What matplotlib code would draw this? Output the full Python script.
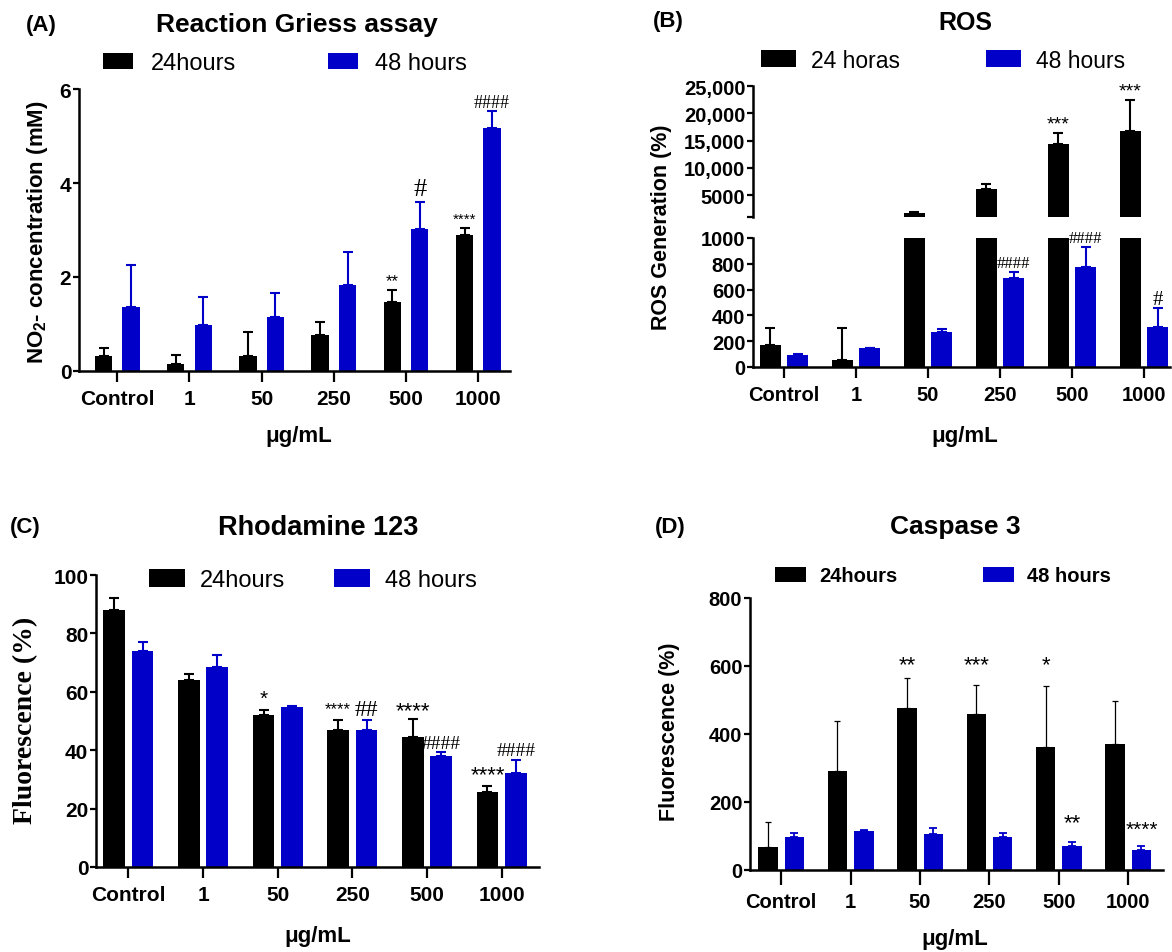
import matplotlib
matplotlib.use('Agg')
import matplotlib.pyplot as plt
import numpy as np

W, H = 1172, 953
BLUE = '#0000C8'
plt.rcParams['font.family'] = ['Liberation Sans', 'DejaVu Sans']
plt.rcParams['mathtext.fontset'] = 'custom'
plt.rcParams['mathtext.rm'] = 'Liberation Sans:bold'
plt.rcParams['mathtext.bf'] = 'Liberation Sans:bold'

categories = ['Control', '1', '50', '250', '500', '1000']

# ---------------- data ----------------
# (A) Griess
griess_24 = [0.31, 0.14, 0.31, 0.76, 1.47, 2.90]
griess_24_sd = [0.19, 0.21, 0.51, 0.29, 0.26, 0.15]
griess_48 = [1.37, 0.97, 1.14, 1.83, 3.02, 5.16]
griess_48_sd = [0.88, 0.61, 0.51, 0.71, 0.58, 0.38]
griess_marks = [(4, 0, '**', 1.92), (4, 1, '#', 3.87), (5, 0, '****', 3.23), (5, 1, '####', 5.72)]

# (B) ROS
ros_24 = [172, 57, 1646, 6220, 14450, 16700]
ros_24_sd = [131, 244, 304, 790, 2010, 5730]
ros_48 = [95, 147, 270, 692, 779, 308]
ros_48_sd = [3, 3, 26, 41, 149, 147]
ros_marks = [(3, 1, '####', 810), (4, 0, '***', 18030), (4, 1, '####', 1000),
             (5, 0, '***', 24140), (5, 1, '#', 527)]

# (C) Rhodamine 123
rho_24 = [88.0, 64.2, 52.2, 46.8, 44.5, 25.7]
rho_24_sd = [4.0, 1.9, 1.6, 3.4, 6.2, 2.0]
rho_48 = [73.9, 68.4, 54.7, 46.8, 37.9, 32.2]
rho_48_sd = [3.1, 4.2, 0.6, 3.4, 1.4, 4.3]
rho_marks = [(2, 0, '*', 57.6), (3, 0, '****', 54.2), (3, 1, '##', 53.9),
             (4, 0, '****', 53.4), (4, 1, '####', 42.2),
             (5, 0, '****', 31.6), (5, 1, '####', 39.9)]

# (D) Caspase 3
casp_24 = [68, 292, 476, 460, 361, 371]
casp_24_sd = [72, 147, 88, 84, 179, 125]
casp_48 = [96, 115, 107, 96, 71, 60]
casp_48_sd = [14, 3, 18, 12, 11, 11]
casp_marks = [(2, 0, '**', 603), (3, 0, '***', 603), (4, 0, '*', 603),
              (4, 1, '**', 140), (5, 1, '****', 120)]

# ---------------- helpers ----------------
fig = plt.figure(figsize=(W / 100, H / 100), dpi=100)


def rect(l, t, r, b):
    return [l / W, 1 - b / H, (r - l) / W, (b - t) / H]


def fx(x):
    return x / W


def fy(y):
    return 1 - y / H


OFF = 0.19


def draw_bars(ax, v24, s24, v48, s48, width, elw, cap, black_elw=None,
              black_cap=None, blue_err=True):
    x = np.arange(len(categories))
    b1 = ax.bar(x - OFF, v24, width=width, color='black', zorder=2)
    b2 = ax.bar(x + OFF, v48, width=width, color=BLUE, zorder=2)
    ax.errorbar(x - OFF, v24, yerr=[np.zeros(len(v24)), s24], fmt='none',
                ecolor='black', elinewidth=black_elw or elw,
                capsize=black_cap or cap, capthick=black_elw or elw, zorder=1)
    if blue_err:
        ax.errorbar(x + OFF, v48, yerr=[np.zeros(len(v48)), s48], fmt='none',
                    ecolor=BLUE, elinewidth=elw, capsize=cap, capthick=elw, zorder=1)
    return b1, b2


def style_axis(ax, xtick_len=6, fs=15):
    for s in ['top', 'right']:
        ax.spines[s].set_visible(False)
    for s in ['left', 'bottom']:
        ax.spines[s].set_linewidth(1.8)
    ax.tick_params(axis='both', width=1.6, labelsize=fs, direction='out')
    ax.tick_params(axis='x', length=xtick_len, pad=5)
    ax.tick_params(axis='y', length=4, pad=1.5)
    ax.set_xticks(np.arange(len(categories)))
    ax.set_xticklabels(categories, fontweight='bold')
    for lab in ax.get_yticklabels():
        lab.set_fontweight('bold')


def marks(ax, lst, sizes):
    for (i, s, t, y), fs in zip(lst, sizes):
        fam = ['Liberation Serif'] if t.startswith('#') else ['Liberation Sans']
        ax.text(i + (OFF if s else -OFF), y, t, ha='center', va='center',
                fontsize=fs, family=fam, clip_on=False, zorder=5)


def legend(ax, handles, labels, cx, cy, fs, hl, hh, tp, cs, weight='normal'):
    lg = ax.legend(handles, labels, ncol=2, loc='center',
                   bbox_to_anchor=(fx(cx), fy(cy)), bbox_transform=fig.transFigure,
                   frameon=False, fontsize=fs, handlelength=hl, handleheight=hh,
                   handletextpad=tp, columnspacing=cs, borderpad=0, borderaxespad=0)
    for t in lg.get_texts():
        t.set_fontweight(weight)
    return lg


# ---------------- (A) ----------------
axA = fig.add_axes(rect(79, 90, 510, 372))
hA = draw_bars(axA, griess_24, griess_24_sd, griess_48, griess_48_sd, 0.24, 1.5, 3.4)
axA.set_xlim(-0.53, 5.44)
axA.set_ylim(0, 6)
axA.set_yticks([0, 2, 4, 6])
style_axis(axA, xtick_len=8)
marks(axA, griess_marks, [12, 19, 11, 13])
legend(axA, hA, ['24hours', '48 hours'], 285, 64, 17, 1.27, 0.64, 0.72, 3.9)
fig.text(fx(41), fy(25), '(A)', fontsize=16, fontweight='bold', ha='center', va='center')
fig.text(fx(297), fy(25), 'Reaction Griess assay', fontsize=19, fontweight='bold', ha='center', va='center')
fig.text(fx(38), fy(232), r'NO$_2$- concentration (mM)', fontsize=16, fontweight='bold',
         rotation=90, ha='center', va='center')
fig.text(fx(299), fy(437), 'μg/mL', fontsize=16, fontweight='bold', ha='center', va='center')

# ---------------- (B) ----------------
axBu = fig.add_axes(rect(753, 87, 1170, 218))
axBl = fig.add_axes(rect(753, 239, 1170, 368))
hB = draw_bars(axBl, ros_24, ros_24_sd, ros_48, ros_48_sd, 0.29, 1.5, 3.4)
draw_bars(axBu, ros_24, ros_24_sd, ros_48, ros_48_sd, 0.29, 1.5, 3.4, blue_err=False)
for ax in (axBu, axBl):
    ax.set_xlim(-0.43, 5.36)
axBl.set_ylim(0, 1000)
axBl.set_yticks(np.arange(0, 1001, 200))
axBu.set_ylim(1000, 25000)
axBu.set_yticks([1000, 5000, 10000, 15000, 20000, 25000])
style_axis(axBl, xtick_len=8, fs=14.5)
style_axis(axBu, xtick_len=8, fs=14.5)
axBu.set_yticklabels(['', '5000', '10,000', '15,000', '20,000', '25,000'], fontweight='bold')
axBu.spines['bottom'].set_visible(False)
axBu.tick_params(axis='x', bottom=False, labelbottom=False)
for (i, s, t, y), fs in zip(ros_marks, [12, 14, 12, 14, 15]):
    target = axBu if y > 1000 else axBl
    fam = ['Liberation Serif'] if t.startswith('#') else ['Liberation Sans']
    target.text(i + (OFF if s else -OFF), y, t, ha='center', va='center',
                fontsize=fs, family=fam, clip_on=False, zorder=5)
legend(axBu, hB, ['24 horas', '48 hours'], 943, 61, 16.5, 1.53, 0.74, 0.65, 3.75)
fig.text(fx(668), fy(22), '(B)', fontsize=16, fontweight='bold', ha='center', va='center')
fig.text(fx(965), fy(23), 'ROS', fontsize=18, fontweight='bold', ha='center', va='center')
fig.text(fx(661), fy(227), 'ROS Generation (%)', fontsize=15.5, fontweight='bold',
         rotation=90, ha='center', va='center')
fig.text(fx(965), fy(437), 'μg/mL', fontsize=16, fontweight='bold', ha='center', va='center')

# ---------------- (C) ----------------
axC = fig.add_axes(rect(96, 576, 539, 868))
hC = draw_bars(axC, rho_24, rho_24_sd, rho_48, rho_48_sd, 0.29, 1.5, 3.4)
axC.set_xlim(-0.435, 5.5)
axC.set_ylim(0, 100)
axC.set_yticks(np.arange(0, 101, 20))
style_axis(axC, xtick_len=8)
marks(axC, rho_marks, [15, 12, 17, 16, 14, 16, 14])
legend(axC, hC, ['24hours', '48 hours'], 313, 581, 17, 1.52, 0.78, 0.64, 2.1)
fig.text(fx(25), fy(528), '(C)', fontsize=16, fontweight='bold', ha='center', va='center')
fig.text(fx(318), fy(528), 'Rhodamine 123', fontsize=19.5, fontweight='bold', ha='center', va='center')
fig.text(fx(26), fy(720), 'Fluorescence (%)', fontsize=20, fontweight='bold',
         family=['Liberation Serif'], rotation=90, ha='center', va='center')
fig.text(fx(318), fy(937), 'μg/mL', fontsize=16, fontweight='bold', ha='center', va='center')

# ---------------- (D) ----------------
axD = fig.add_axes(rect(750, 599, 1163, 871))
hD = draw_bars(axD, casp_24, casp_24_sd, casp_48, casp_48_sd, 0.28, 1.3, 2.6,
               black_elw=0.9, black_cap=2.4)
axD.set_xlim(-0.45, 5.5)
axD.set_ylim(0, 800)
axD.set_yticks(np.arange(0, 801, 200))
style_axis(axD, xtick_len=11, fs=14.5)
marks(axD, casp_marks, [16, 16, 16, 16, 15])
legend(axD, hD, ['24hours', '48 hours'], 943, 577, 14.5, 1.54, 0.75, 0.65, 4.25, weight='bold')
fig.text(fx(670), fy(528), '(D)', fontsize=16, fontweight='bold', ha='center', va='center')
fig.text(fx(955), fy(527), 'Caspase 3', fontsize=19, fontweight='bold', ha='center', va='center')
fig.text(fx(670), fy(732), 'Fluorescence (%)', fontsize=15.5, fontweight='bold',
         rotation=90, ha='center', va='center')
fig.text(fx(955), fy(940), 'μg/mL', fontsize=16, fontweight='bold', ha='center', va='center')

fig.savefig('out.png', dpi=100)
